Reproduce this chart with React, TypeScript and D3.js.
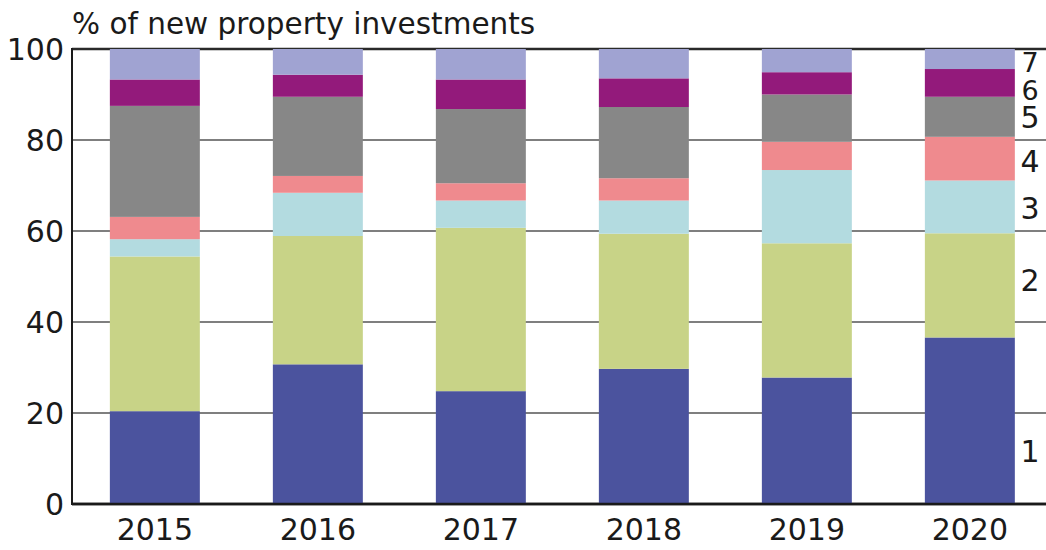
import React from "react";
import * as d3 from "d3";

const years = ["2015", "2016", "2017", "2018", "2019", "2020"];
const s1 = [20.4, 30.7, 24.8, 29.7, 27.8, 36.6];
const s2 = [34.0, 28.2, 35.9, 29.7, 29.5, 22.9];
const s3 = [3.8, 9.5, 6.0, 7.3, 16.1, 11.6];
const s4 = [4.9, 3.7, 3.8, 4.9, 6.2, 9.6];
const s5 = [24.4, 17.4, 16.3, 15.65, 10.4, 8.8];
const s6 = [5.8, 4.85, 6.5, 6.3, 4.9, 6.1];
const s7 = [6.7, 5.65, 6.7, 6.45, 5.1, 4.4];
const seriesNames = ["1", "2", "3", "4", "5", "6", "7"];
const seriesColors = ["#4b539e", "#c8d387", "#b3dbe0", "#ef8a8e", "#878787", "#931a7b", "#a0a3d2"];
const labelValues = [11.5, 49.2, 65.0, 75.2, 84.9, 90.9, 97.1];
const yTicks = [0, 20, 40, 60, 80, 100];
const title = "% of new property investments";

const W = 1046;
const H = 550;
const FONT = "DejaVu Sans, sans-serif";

export default function App() {
  const allSeries = [s1, s2, s3, s4, s5, s6, s7];
  const rows = years.map((y, i) => {
    const r: any = { year: y };
    seriesNames.forEach((n, k) => (r[n] = allSeries[k][i]));
    return r;
  });
  const stacked = d3.stack().keys(seriesNames)(rows);

  const y = d3.scaleLinear().domain([0, 100]).range([504, 49]);
  const x = d3
    .scaleBand()
    .domain(years)
    .range([74, 1050.7])
    .paddingInner(0.448)
    .paddingOuter(0.22);

  const plotLeft = 72;

  return (
    <svg
      width={W}
      height={H}
      style={{ position: "absolute", left: 0, top: 0, background: "#fff" }}
    >
      <rect x={0} y={0} width={W} height={H} fill="#fff" />
      {yTicks.map((t) => (
        <line
          key={"g" + t}
          x1={plotLeft}
          x2={W}
          y1={y(t)}
          y2={y(t)}
          stroke={t === 100 ? "#2a2a2a" : t === 0 ? "#1a1a1a" : "#7f7f7f"}
          strokeWidth={t === 0 || t === 100 ? 2.5 : 2}
        />
      ))}
      {stacked.map((layer, k) => (
        <g key={layer.key} fill={seriesColors[k]}>
          {layer.map((d, i) => (
            <rect
              key={i}
              x={x(years[i])}
              width={x.bandwidth()}
              y={y(d[1])}
              height={y(d[0]) - y(d[1])}
            />
          ))}
        </g>
      ))}
      <line x1={plotLeft} x2={plotLeft} y1={y(100) - 1} y2={y(0) + 1} stroke="#1a1a1a" strokeWidth={2} />
      <line x1={plotLeft} x2={W} y1={y(0)} y2={y(0)} stroke="#1a1a1a" strokeWidth={2.5} />
      {yTicks.map((t) => (
        <text
          key={"t" + t}
          x={64}
          y={y(t)}
          textAnchor="end"
          dominantBaseline="central"
          fontFamily={FONT}
          fontSize={30}
          fill="#1a1a1a"
        >
          {t}
        </text>
      ))}
      {years.map((yr) => (
        <text
          key={yr}
          x={(x(yr) as number) + x.bandwidth() / 2}
          y={529}
          textAnchor="middle"
          dominantBaseline="central"
          fontFamily={FONT}
          fontSize={30}
          fill="#1a1a1a"
        >
          {yr}
        </text>
      ))}
      {seriesNames.map((n, k) => (
        <text
          key={"l" + n}
          x={1030}
          y={y(labelValues[k])}
          textAnchor="middle"
          dominantBaseline="central"
          fontFamily={FONT}
          fontSize={k >= 5 ? 27 : 30}
          fill="#1a1a1a"
        >
          {n}
        </text>
      ))}
      <text x={72} y={34} fontFamily={FONT} fontSize={29.5} fill="#1a1a1a">
        {title}
      </text>
    </svg>
  );
}
